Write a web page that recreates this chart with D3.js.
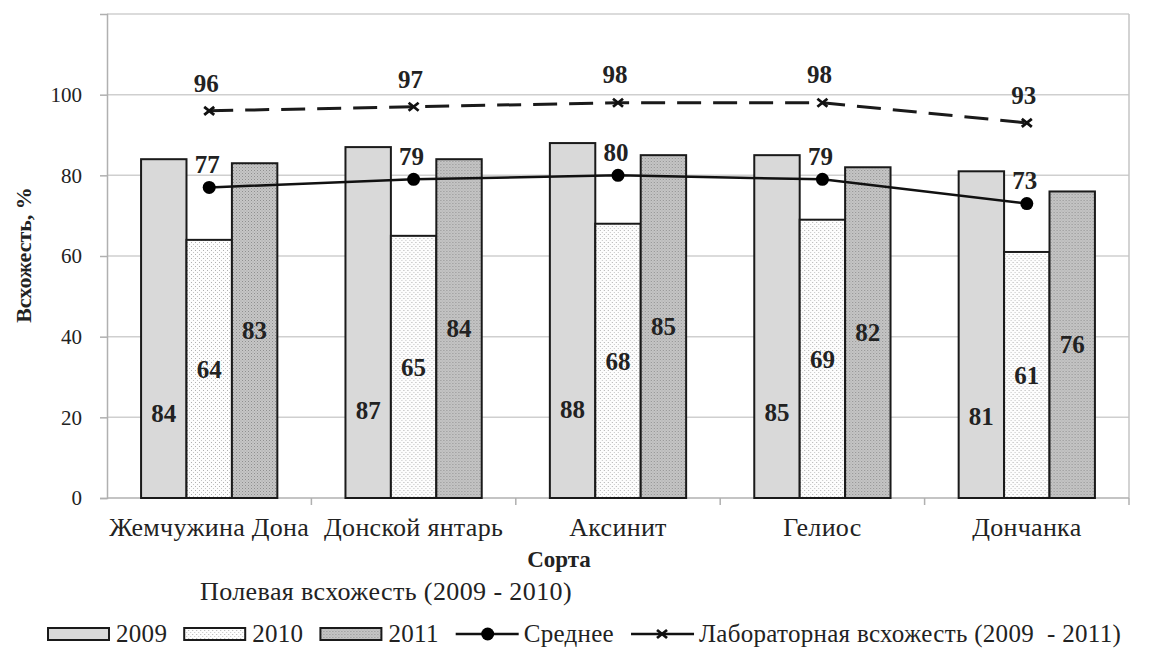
<!DOCTYPE html>
<html>
<head>
<meta charset="utf-8">
<script src="https://cdn.jsdelivr.net/npm/d3@7"></script>
<style>
  body { margin: 0; background: #fff; }
  text { font-family: "Liberation Serif", "Times New Roman", serif; fill: #222; }
</style>
</head>
<body>
<div id="chart"></div>
<script>
const categories = ["Жемчужина Дона", "Донской янтарь", "Аксинит", "Гелиос", "Дончанка"];
const years = ["2009", "2010", "2011"];
const values2009 = [84, 87, 88, 85, 81];
const values2010 = [64, 65, 68, 69, 61];
const values2011 = [83, 84, 85, 82, 76];
const avgValues = [77, 79, 80, 79, 73];
const labValues = [96, 97, 98, 98, 93];
const yTickValues = [0, 20, 40, 60, 80, 100];
const legendLabels = ["2009", "2010", "2011", "Среднее", "Лабораторная всхожесть (2009  - 2011)"];

const width = 1149, height = 649;
const margin = { top: 14, right: 20, bottom: 151, left: 107 };
const innerW = width - margin.left - margin.right;
const innerH = height - margin.top - margin.bottom;

const svg = d3.select("#chart").append("svg")
    .attr("width", width)
    .attr("height", height);

// fill patterns for 2010 and 2011 bars
const defs = svg.append("defs");
const p10 = defs.append("pattern").attr("id", "p2010")
    .attr("width", 4).attr("height", 4).attr("patternUnits", "userSpaceOnUse");
p10.append("rect").attr("width", 4).attr("height", 4).attr("fill", "#fdfdfd");
p10.append("rect").attr("x", 0).attr("y", 0).attr("width", 1).attr("height", 1).attr("fill", "#b0b0b0");
p10.append("rect").attr("x", 2).attr("y", 2).attr("width", 1).attr("height", 1).attr("fill", "#c4c4c4");

const p11 = defs.append("pattern").attr("id", "p2011")
    .attr("width", 3).attr("height", 3).attr("patternUnits", "userSpaceOnUse");
p11.append("rect").attr("width", 3).attr("height", 3).attr("fill", "#c6c6c6");
p11.append("rect").attr("x", 0).attr("y", 0).attr("width", 1).attr("height", 1).attr("fill", "#8f8f8f");
p11.append("rect").attr("x", 1.5).attr("y", 1.5).attr("width", 1).attr("height", 1).attr("fill", "#a5a5a5");

const fills = { "2009": "#d9d9d9", "2010": "url(#p2010)", "2011": "url(#p2011)" };
const labelFrac = { "2009": 0.25, "2010": 0.5, "2011": 0.5 };

const g = svg.append("g").attr("transform", `translate(${margin.left},${margin.top})`);

const x0 = d3.scaleBand().domain(categories).range([0, innerW]);
const bw = x0.bandwidth();
const x1 = d3.scaleBand().domain(years).range([bw / 6, bw * 5 / 6]);
const y = d3.scaleLinear().domain([0, 120]).range([innerH, 0]);

// grid
g.append("g").selectAll("line")
    .data([20, 40, 60, 80, 100, 120])
    .join("line")
    .attr("x1", 0).attr("x2", innerW)
    .attr("y1", d => y(d)).attr("y2", d => y(d))
    .attr("stroke", "#cfcfcf").attr("stroke-width", 1.5);
g.append("line")
    .attr("x1", innerW).attr("x2", innerW).attr("y1", 0).attr("y2", innerH)
    .attr("stroke", "#c4c4c4").attr("stroke-width", 1.5);

// y axis
const yAxis = g.append("g")
    .call(d3.axisLeft(y).tickValues(yTickValues).tickSize(7).tickPadding(18));
yAxis.select(".domain").attr("stroke", "#b0b0b0").attr("stroke-width", 1.5);
yAxis.selectAll(".tick line").attr("stroke", "#b0b0b0").attr("stroke-width", 1.5);
yAxis.selectAll(".tick text").style("font-size", "21px").attr("fill", "#333");

// x axis
g.append("line")
    .attr("x1", 0).attr("x2", innerW).attr("y1", innerH).attr("y2", innerH)
    .attr("stroke", "#b0b0b0").attr("stroke-width", 1.5);
g.append("g").selectAll("line")
    .data(categories.slice(1).concat(["end"]))
    .join("line")
    .attr("x1", d => d === "end" ? innerW : x0(d))
    .attr("x2", d => d === "end" ? innerW : x0(d))
    .attr("y1", innerH).attr("y2", innerH + 7)
    .attr("stroke", "#b0b0b0").attr("stroke-width", 1.5);

const xAxis = g.append("g")
    .attr("transform", `translate(0,${innerH})`)
    .call(d3.axisBottom(x0).tickSize(0).tickPadding(20));
xAxis.select(".domain").remove();
xAxis.selectAll(".tick text").style("font-size", "26px").style("letter-spacing", "0.3px")
    .attr("fill", "#222");

// bars
const rows = categories.map((c, i) => ({
    cat: c,
    vals: [
        { year: "2009", v: values2009[i] },
        { year: "2010", v: values2010[i] },
        { year: "2011", v: values2011[i] }
    ]
}));

const groups = g.append("g").selectAll("g")
    .data(rows)
    .join("g")
    .attr("transform", d => `translate(${x0(d.cat)},0)`);

groups.selectAll("rect")
    .data(d => d.vals)
    .join("rect")
    .attr("x", d => x1(d.year))
    .attr("y", d => y(d.v))
    .attr("width", x1.bandwidth())
    .attr("height", d => innerH - y(d.v))
    .attr("fill", d => fills[d.year])
    .attr("stroke", "#1a1a1a")
    .attr("stroke-width", 2);

groups.selectAll("text")
    .data(d => d.vals)
    .join("text")
    .attr("x", d => x1(d.year) + x1.bandwidth() / 2)
    .attr("y", d => y(d.v * labelFrac[d.year]))
    .attr("dy", "0.35em")
    .attr("text-anchor", "middle")
    .style("font-size", "25px")
    .style("font-weight", "bold")
    .attr("fill", "#111")
    .text(d => d.v);

// lines
const cx = c => x0(c) + bw / 2;

const labLine = d3.line().x((d, i) => cx(categories[i])).y(d => y(d));
g.append("path")
    .datum(labValues)
    .attr("fill", "none")
    .attr("stroke", "#1a1a1a")
    .attr("stroke-width", 3)
    .attr("stroke-dasharray", "24,12")
    .attr("d", labLine);

g.append("g").selectAll("path")
    .data(labValues)
    .join("path")
    .attr("transform", (d, i) => `translate(${cx(categories[i])},${y(d)})`)
    .attr("d", "M-5,-4L5,4M-5,4L5,-4")
    .attr("stroke", "#111")
    .attr("stroke-width", 2.8);

g.append("g").selectAll("text")
    .data(labValues)
    .join("text")
    .attr("x", (d, i) => cx(categories[i]) - 3)
    .attr("y", d => y(d) - 28)
    .attr("dy", "0.35em")
    .attr("text-anchor", "middle")
    .style("font-size", "25px")
    .style("font-weight", "bold")
    .attr("fill", "#111")
    .text(d => d);

g.append("path")
    .datum(avgValues)
    .attr("fill", "none")
    .attr("stroke", "#111")
    .attr("stroke-width", 2.5)
    .attr("d", d3.line().x((d, i) => cx(categories[i])).y(d => y(d)));

g.append("g").selectAll("circle")
    .data(avgValues)
    .join("circle")
    .attr("cx", (d, i) => cx(categories[i]))
    .attr("cy", d => y(d))
    .attr("r", 6.5)
    .attr("fill", "#000");

g.append("g").selectAll("text")
    .data(avgValues)
    .join("text")
    .attr("x", (d, i) => cx(categories[i]) - 2)
    .attr("y", d => y(d) - 23)
    .attr("dy", "0.35em")
    .attr("text-anchor", "middle")
    .style("font-size", "25px")
    .style("font-weight", "bold")
    .attr("fill", "#111")
    .text(d => d);

// axis titles
svg.append("text")
    .attr("transform", "translate(31,255) rotate(-90)")
    .attr("text-anchor", "middle")
    .style("font-size", "22px")
    .style("font-weight", "bold")
    .text("Всхожесть, %");

svg.append("text")
    .attr("x", 559).attr("y", 567)
    .attr("text-anchor", "middle")
    .style("font-size", "23px")
    .style("font-weight", "bold")
    .text("Сорта");

svg.append("text")
    .attr("x", 200).attr("y", 600)
    .style("font-size", "26px")
    .style("letter-spacing", "0.4px")
    .attr("fill", "#333")
    .text("Полевая всхожесть (2009 - 2010)");

// legend
const legend = svg.append("g").attr("transform", "translate(48,634)");
let lx = 0;
legendLabels.forEach((label, i) => {
    const item = legend.append("g").attr("transform", `translate(${lx},0)`);
    if (i < 3) {
        item.append("rect")
            .attr("x", 0).attr("y", -6).attr("width", 61).attr("height", 12)
            .attr("fill", fills[years[i]])
            .attr("stroke", "#1a1a1a").attr("stroke-width", 2);
    } else {
        item.append("line")
            .attr("x1", 0).attr("x2", 63).attr("y1", 0).attr("y2", 0)
            .attr("stroke", "#111").attr("stroke-width", 2.5);
        if (i === 3) {
            item.append("circle").attr("cx", 32).attr("cy", 0).attr("r", 6.5).attr("fill", "#000");
        } else {
            item.append("path").attr("transform", "translate(31,0)")
                .attr("d", "M-5,-4L5,4M-5,4L5,-4")
                .attr("stroke", "#111").attr("stroke-width", 2.8);
        }
    }
    const t = item.append("text")
        .attr("x", 68).attr("y", 8)
        .style("font-size", "25px")
        .style("letter-spacing", "0.3px")
        .attr("fill", "#222")
        .style("white-space", "pre")
        .text(label);
    lx += 68 + t.node().getComputedTextLength() + 17;
});
</script>
</body>
</html>
